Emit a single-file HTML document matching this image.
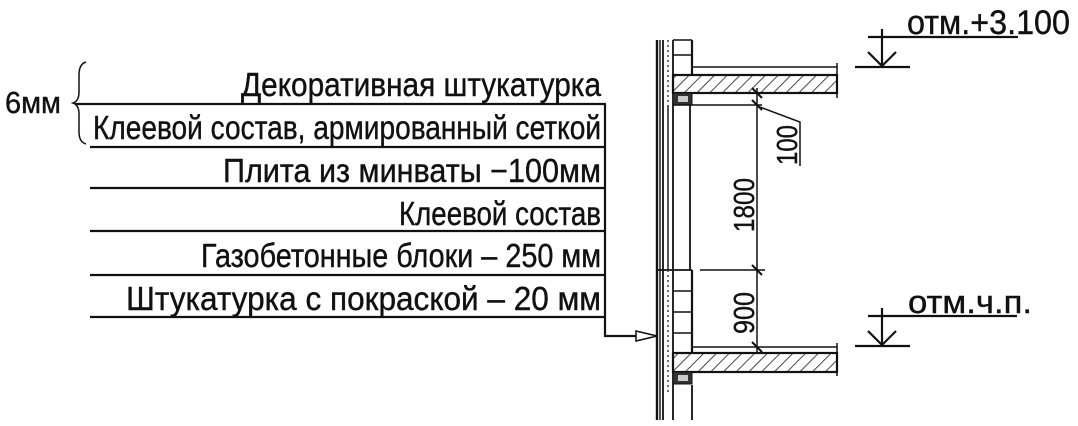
<!DOCTYPE html>
<html><head><meta charset="utf-8"><style>
html,body{margin:0;padding:0;background:#fff;}
svg{display:block;}
text{font-family:"Liberation Sans",sans-serif;fill:#111;stroke:#111;stroke-width:0.4;}
</style></head><body>
<svg width="1078" height="426" viewBox="0 0 1078 426" xmlns="http://www.w3.org/2000/svg">
<defs>
<pattern id="h" width="9" height="9" patternUnits="userSpaceOnUse" patternTransform="rotate(45)">
<line x1="0" y1="0" x2="0" y2="9" stroke="#333" stroke-width="1.8"/>
</pattern>
</defs>
<g stroke="#111" stroke-width="2.2" fill="none">
<line x1="75" y1="104" x2="606" y2="104"/>
<line x1="90" y1="147" x2="606" y2="147"/>
<line x1="90" y1="188" x2="606" y2="188"/>
<line x1="90" y1="231" x2="606" y2="231"/>
<line x1="90" y1="275" x2="606" y2="275"/>
<line x1="90" y1="317" x2="606" y2="317"/>
<polyline points="605,104 605,336 638,336"/>
<path d="M86,62 Q79,64 79,75 L79,92 Q79,101 73,103 Q79,105 79,114 L79,132 Q79,142 86,144" stroke-width="1.5"/>
</g>
<polygon points="636,331 657,336 636,341" fill="#fff" stroke="#111" stroke-width="1.5"/>

<g font-size="33" text-anchor="end">
<text x="601" y="96" textLength="360" lengthAdjust="spacingAndGlyphs">Декоративная штукатурка</text>
<text x="601" y="139" textLength="508" lengthAdjust="spacingAndGlyphs">Клеевой состав, армированный сеткой</text>
<text x="601" y="182" textLength="378" lengthAdjust="spacingAndGlyphs">Плита из минваты −100мм</text>
<text x="601" y="225" textLength="202" lengthAdjust="spacingAndGlyphs">Клеевой состав</text>
<text x="601" y="267" textLength="400" lengthAdjust="spacingAndGlyphs">Газобетонные блоки – 250 мм</text>
<text x="601" y="310" textLength="475" lengthAdjust="spacingAndGlyphs">Штукатурка  с покраской – 20 мм</text>
</g>
<text x="5" y="113" font-size="31" textLength="56" lengthAdjust="spacingAndGlyphs">6мм</text>

<g stroke="#111" fill="none">
<line x1="657" y1="40" x2="657" y2="420" stroke-width="2.4"/>
<line x1="660" y1="40" x2="660" y2="420" stroke-width="1.4"/>
<line x1="663" y1="40" x2="663" y2="420" stroke-width="1.8"/>
<line x1="668" y1="105" x2="668" y2="270" stroke-width="1.4"/>
<line x1="673" y1="40" x2="673" y2="420" stroke-width="1.8"/>
<line x1="690" y1="105" x2="690" y2="270" stroke-width="1.8"/>
<line x1="692" y1="40" x2="692" y2="75" stroke-width="2.2"/>
<line x1="692" y1="270" x2="692" y2="353" stroke-width="2.2"/>
<line x1="692" y1="385" x2="692" y2="420" stroke-width="1.8"/>
<line x1="673" y1="40" x2="692" y2="40" stroke-width="1.4"/>
<line x1="673" y1="55" x2="692" y2="55" stroke-width="1.4"/>
<line x1="657" y1="270" x2="692" y2="270" stroke-width="1.8"/>
<line x1="673" y1="291" x2="692" y2="291" stroke-width="1.4"/>
<line x1="673" y1="312" x2="692" y2="312" stroke-width="1.4"/>
<line x1="673" y1="333" x2="692" y2="333" stroke-width="1.4"/>
</g>
<g fill="none" stroke="#444" stroke-width="1.5">
<line x1="668" y1="40" x2="668" y2="105" stroke-dasharray="2,3"/>
<line x1="668" y1="270" x2="668" y2="395" stroke-dasharray="2,3"/>
</g>
<rect x="673" y="75" width="164" height="18" fill="url(#h)" stroke="#111" stroke-width="2.2"/>
<rect x="673" y="353" width="164" height="19" fill="url(#h)" stroke="#111" stroke-width="2.2"/>
<rect x="673" y="93" width="19" height="12" fill="#333" stroke="#111"/>
<rect x="673" y="372" width="19" height="12" fill="#333" stroke="#111"/>
<rect x="678" y="96" width="10" height="6" fill="#ccc"/>
<rect x="678" y="375" width="10" height="6" fill="#ccc"/>
<g stroke="#111" fill="none" stroke-width="1.5">
<line x1="692" y1="67" x2="837" y2="67"/>
<line x1="837" y1="63" x2="837" y2="98"/>
<line x1="692" y1="347" x2="837" y2="347"/>
<line x1="837" y1="343" x2="837" y2="376"/>
<line x1="673" y1="105" x2="762" y2="105"/>
<line x1="700" y1="270" x2="765" y2="270"/>
<line x1="757" y1="88" x2="757" y2="352"/>
<polyline points="757,106 800,122 800,166"/>
</g>
<g stroke="#111" stroke-width="2">
<line x1="752" y1="88" x2="762" y2="98"/>
<line x1="752" y1="100" x2="762" y2="110"/>
<line x1="752" y1="265" x2="762" y2="275"/>
<line x1="752" y1="342" x2="762" y2="352"/>
</g>
<g font-size="29">
<text transform="translate(754,232) rotate(-90)" textLength="54" lengthAdjust="spacingAndGlyphs">1800</text>
<text transform="translate(754,334) rotate(-90)" textLength="42" lengthAdjust="spacingAndGlyphs">900</text>
<text transform="translate(797,165) rotate(-90)" textLength="40" lengthAdjust="spacingAndGlyphs">100</text>
</g>
<g stroke="#111" stroke-width="2.2" fill="none">
<line x1="868" y1="37" x2="1018" y2="37"/>
<line x1="882" y1="29" x2="882" y2="67"/>
<polyline points="868,52 882,66 896,52"/>
<line x1="855" y1="67" x2="910" y2="67"/>
<line x1="868" y1="316" x2="1017" y2="316"/>
<line x1="882" y1="308" x2="882" y2="346"/>
<polyline points="868,331 882,345 896,331"/>
<line x1="855" y1="346" x2="910" y2="346"/>
</g>
<text x="907" y="34" font-size="34" textLength="163" lengthAdjust="spacingAndGlyphs">отм.+3.100</text>
<text x="908" y="313" font-size="32" textLength="124" lengthAdjust="spacingAndGlyphs">отм.ч.п.</text>
</svg>
</body></html>
